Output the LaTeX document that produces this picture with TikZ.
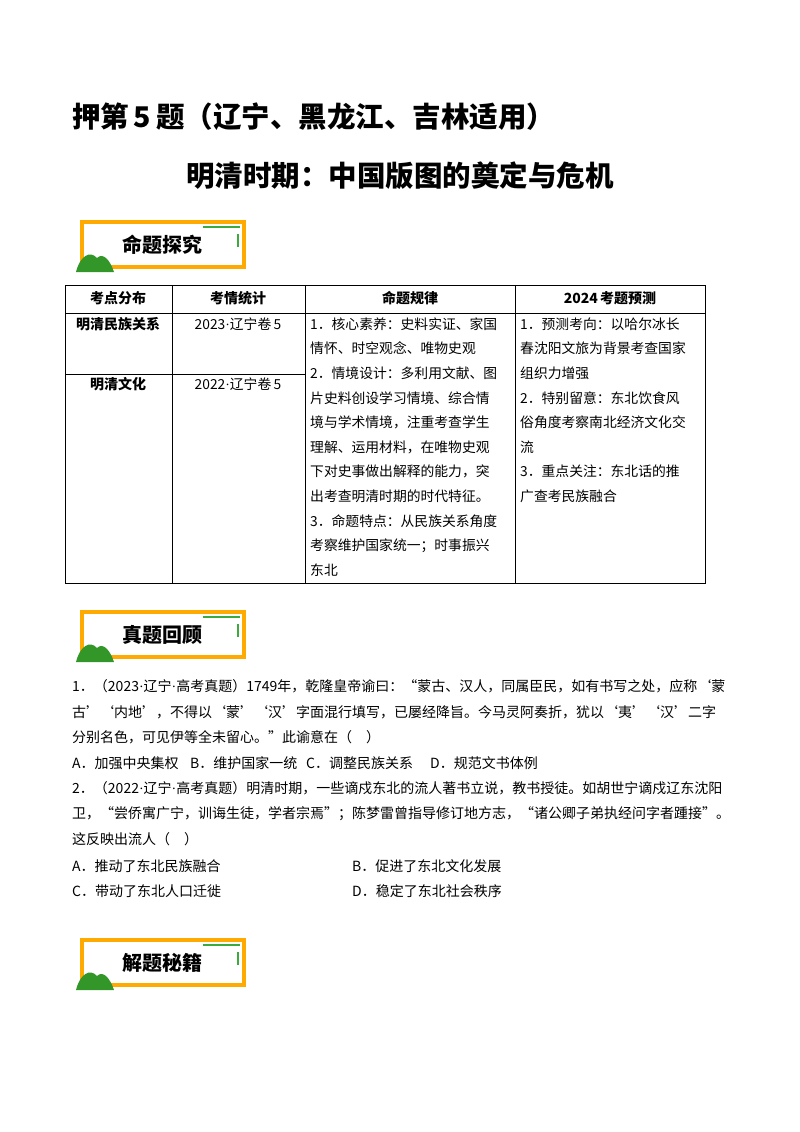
\documentclass[tikz,border=0pt]{standalone}
\usepackage{fontspec}
\setmainfont{Liberation Serif}
\newfontfamily\cjk{Noto Sans CJK SC}
\newfontfamily\cjkb{Noto Sans CJK SC Bold}
\newcommand{\md}{{\rmfamily\char"00B7}}
\definecolor{borange}{RGB}{255,170,0}
\definecolor{bgreen}{RGB}{60,170,60}
\definecolor{mgreen}{RGB}{50,150,40}
\begin{document}
\begin{tikzpicture}[x=1pt,y=-1pt,
  tx/.style={anchor=west,inner sep=0pt,font=\fontsize{14}{14}\selectfont\cjk},
  cell/.style={anchor=west,inner sep=0pt,font=\fontsize{13.8}{13}\selectfont\cjk},
  hd/.style={anchor=center,inner sep=0pt,font=\fontsize{14}{14}\selectfont\bfseries\cjkb},
  ttl/.style={inner sep=0pt,font=\fontsize{28.5}{28}\selectfont\bfseries\cjkb},
  tbl/.style={draw=black,line width=0.7pt}]
\useasboundingbox (0,0) rectangle (800,1132);
\node[ttl,anchor=west] (t1) at (72,117) {押第\,5\,题（辽宁、黑龙江、吉林适用）};
\node[ttl] (t2) at (400,176) {明清时期：中国版图的奠定与危机};
% badges
\foreach \y/\lab/\nm in {222/命题探究/b1,612/真题回顾/b2,940/解题秘籍/b3}{
  \draw[draw=borange,line width=3.5pt] (82,\y) rectangle (244,\y+45);
  \draw[bgreen,line width=1.5pt] (203,\y+5) -- (240,\y+5);
  \draw[bgreen,line width=1.5pt] (238,\y+12) -- (238,\y+25);
  \fill[mgreen] (76,\y+50) .. controls (80,\y+34) and (90,\y+28) .. (97,\y+36) .. controls (103,\y+30) and (110,\y+38) .. (114,\y+50) -- cycle;
  \node[inner sep=0pt,font=\fontsize{20}{20}\selectfont\bfseries\cjkb] (\nm) at (162,\y+23) {\lab};
}
% table
\draw[tbl] (65,285) rectangle (705,583);
\draw[tbl] (65,313) -- (705,313);
\draw[tbl] (65,374) -- (305,374);
\foreach \x in {172,305,515} \draw[tbl] (\x,285) -- (\x,583);
\node[hd] (h1) at (118,298) {考点分布};
\node[hd] (h2) at (238,298) {考情统计};
\node[hd] (h3) at (410,298) {命题规律};
\node[hd] (h4) at (610,298) {\textbf{2024}\,考题预测};
\node[hd] (r1) at (118,324) {明清民族关系};
\node[hd] (r2) at (118,384) {明清文化};
\node[cell,anchor=center] (s1) at (238,324) {2023\md 辽宁卷\,5};
\node[cell,anchor=center] (s2) at (238,384) {2022\md 辽宁卷\,5};
\foreach \t [count=\i from 0] in {1．核心素养：史料实证、家国,情怀、时空观念、唯物史观,2．情境设计：多利用文献、图,片史料创设学习情境、综合情,境与学术情境，注重考查学生,理解、运用材料，在唯物史观,下对史事做出解释的能力，突,出考查明清时期的时代特征。,3．命题特点：从民族关系角度,考察维护国家统一；时事振兴,东北}
  \node[cell] (c3-\i) at (310,324+24.6*\i) {\t};
\foreach \t [count=\i from 0] in {1．预测考向：以哈尔冰长,春沈阳文旅为背景考查国家,组织力增强,2．特别留意：东北饮食风,俗角度考察南北经济文化交,流,3．重点关注：东北话的推,广查考民族融合}
  \node[cell] (c4-\i) at (520,324+24.6*\i) {\t};
% questions
\node[tx] (q1a) at (72,686) {1．（2023\md 辽宁\md 高考真题）1749年，乾隆皇帝谕曰：“蒙古、汉人，同属臣民，如有书写之处，应称‘蒙};
\node[tx] (q1b) at (72,712) {古’‘内地’，不得以‘蒙’‘汉’字面混行填写，已屡经降旨。今马灵阿奏折，犹以‘夷’‘汉’二字};
\node[tx] (q1c) at (72,737) {分别名色，可见伊等全未留心。”此谕意在（　）};
\node[tx] (o1a) at (72,763) {A．加强中央集权};
\node[tx] (o1b) at (190,763) {B．维护国家一统};
\node[tx] (o1c) at (306,763) {C．调整民族关系};
\node[tx] (o1d) at (430,763) {D．规范文书体例};
\node[tx] (q2a) at (72,788) {2．（2022\md 辽宁\md 高考真题）明清时期，一些谪戍东北的流人著书立说，教书授徒。如胡世宁谪戍辽东沈阳};
\node[tx] (q2b) at (72,814) {卫，“尝侨寓广宁，训诲生徒，学者宗焉”；陈梦雷曾指导修订地方志，“诸公卿子弟执经问字者踵接”。};
\node[tx] (q2c) at (72,839) {这反映出流人（　）};
\node[tx] (o2a) at (72,866) {A．推动了东北民族融合};
\node[tx] (o2b) at (352,866) {B．促进了东北文化发展};
\node[tx] (o2c) at (72,891) {C．带动了东北人口迁徙};
\node[tx] (o2d) at (352,891) {D．稳定了东北社会秩序};
\end{tikzpicture}
\end{document}
